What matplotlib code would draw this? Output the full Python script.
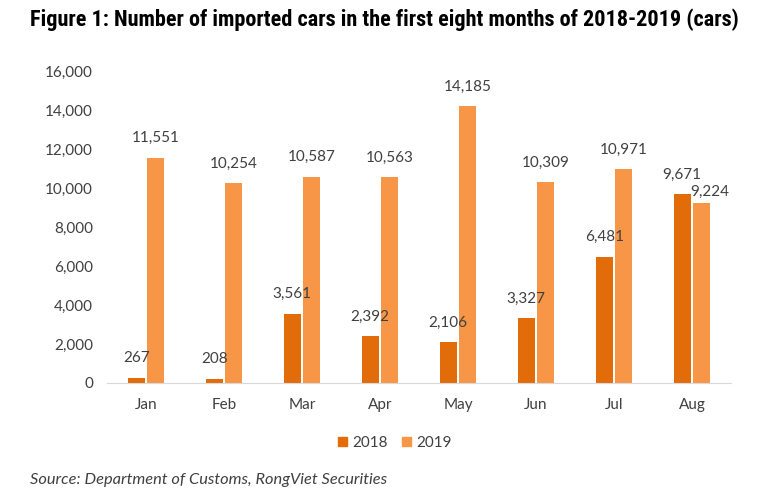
import matplotlib
matplotlib.use("Agg")
import matplotlib.pyplot as plt
import numpy as np
from matplotlib.ticker import FuncFormatter, MultipleLocator
from matplotlib.patches import Patch
from matplotlib import font_manager

months = ["Jan", "Feb", "Mar", "Apr", "May", "Jun", "Jul", "Aug"]
cars_2018 = [267, 208, 3561, 2392, 2106, 3327, 6481, 9671]
cars_2019 = [11551, 10254, 10587, 10563, 14185, 10309, 10971, 9224]
series_names = ["2018", "2019"]
title = "Figure 1: Number of imported cars in the first eight months of 2018-2019 (cars)"
source = "Source: Department of Customs, RongViet Securities"

c2018 = "#E36C0A"
c2019 = "#F79646"
txt = "#404040"
FONT = ["Lato", "DejaVu Sans"]

# pick a condensed bold family for the title if one is installed
names = {f.name for f in font_manager.fontManager.ttflist}
title_family = "DejaVu Sans"
title_stretch = "normal"
for cand in ["Liberation Sans Narrow", "Roboto Condensed", "Open Sans Condensed",
             "Noto Sans Condensed", "DejaVu Sans Condensed"]:
    if cand in names:
        title_family = cand
        break
else:
    cond = [f for f in font_manager.fontManager.ttflist
            if f.name in ("Noto Sans", "DejaVu Sans", "Open Sans", "Roboto")
            and f.weight in (700, "bold") and str(f.stretch) in ("condensed", "semi-condensed", "extra-condensed")]
    if cond:
        title_family = cond[0].name
        title_stretch = cond[0].stretch

fig = plt.figure(figsize=(7.64, 4.97), dpi=100)
ax = fig.add_axes([107/764, 1 - 383/497, (731 - 107)/764, (383 - 71)/497])

x = np.arange(len(months))
w = 0.22
gap = 0.03
b1 = ax.bar(x - (w + gap)/2, cars_2018, width=w, color=c2018)
b2 = ax.bar(x + (w + gap)/2, cars_2019, width=w, color=c2019)

ax.set_xlim(-0.5, len(months) - 0.5)
ax.set_ylim(0, 16000)
ax.yaxis.set_major_locator(MultipleLocator(2000))
ax.yaxis.set_major_formatter(FuncFormatter(lambda v, p: f"{int(v):,}"))
ax.set_xticks(x)
ax.set_xticklabels(months)
for sp in ["top", "right", "left"]:
    ax.spines[sp].set_visible(False)
ax.spines["bottom"].set_color("#d9d9d9")
ax.tick_params(axis="both", length=0, labelsize=11, colors=txt)
ax.tick_params(axis="y", pad=10)
ax.tick_params(axis="x", pad=11)
for lab in ax.get_xticklabels() + ax.get_yticklabels():
    lab.set_family(FONT)

label_dx_2019 = [0, 0, 0, 0, 0, 0, 0, 6]
label_dy_2019 = [14, 14, 14, 14, 14, 14, 14, 8]
for rect, v in zip(b1, cars_2018):
    ax.annotate(f"{v:,}", (rect.get_x() + rect.get_width()/2, v), xytext=(0, 14),
                textcoords="offset points", ha="center", va="center",
                fontsize=11, color=txt, family=FONT)
for rect, v, dx, dy in zip(b2, cars_2019, label_dx_2019, label_dy_2019):
    ax.annotate(f"{v:,}", (rect.get_x() + rect.get_width()/2, v), xytext=(dx, dy),
                textcoords="offset points", ha="center", va="center",
                fontsize=11, color=txt, family=FONT)

handles = [Patch(color=c2018), Patch(color=c2019)]
fig.legend(handles, series_names, loc="center", bbox_to_anchor=(395/764, 1 - 443/497),
           ncol=2, frameon=False, handlelength=0.6, handleheight=0.6,
           handletextpad=0.35, columnspacing=0.9, prop={"family": FONT, "size": 11})
for t in fig.legends[0].get_texts():
    t.set_color(txt)

t = fig.text(30/764, 1 - 20/497, title, ha="left", va="center", fontweight="bold",
             fontsize=12, color="black", family=title_family, fontstretch=title_stretch)
s = fig.text(30/764, 1 - 480/497, source, ha="left", va="center", style="italic",
             fontsize=10, color=txt, family=FONT)
fig.canvas.draw()
r = fig.canvas.get_renderer()
t.set_fontsize(12 * 710 / t.get_window_extent(r).width)
s.set_fontsize(10 * 356 / s.get_window_extent(r).width)

fig.savefig("out.png", dpi=100)
